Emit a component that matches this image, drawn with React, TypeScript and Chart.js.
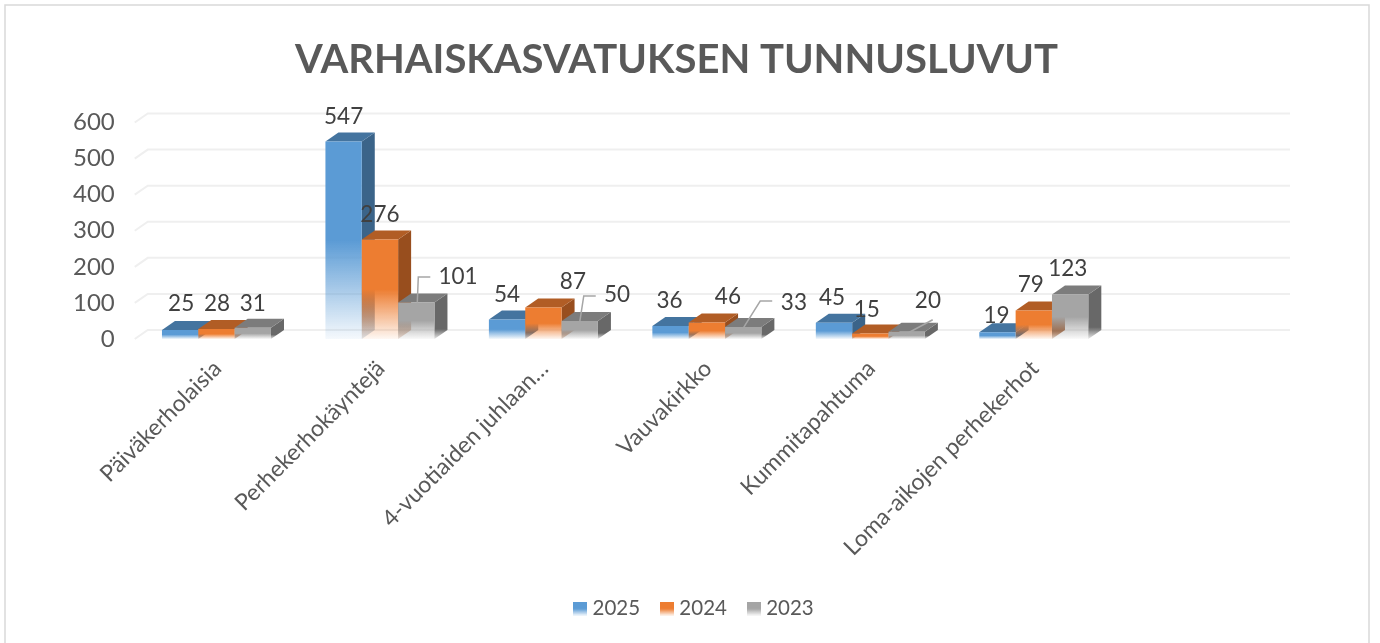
import React, { useEffect, useRef } from "react";
import { Chart, registerables } from "chart.js";

Chart.register(...registerables);

const TITLE = "VARHAISKASVATUKSEN TUNNUSLUVUT";
const categories = [
  "Päiväkerholaisia",
  "Perhekerhokäyntejä",
  "4-vuotiaiden juhlaan…",
  "Vauvakirkko",
  "Kummitapahtuma",
  "Loma-aikojen perhekerhot",
  "",
];
const seriesNames = ["2025", "2024", "2023"];
const values2025 = [25, 547, 54, 36, 45, 19, null];
const values2024 = [28, 276, 87, 46, 15, 79, null];
const values2023 = [31, 101, 50, 33, 20, 123, null];

const FRONT = ["#5b9bd5", "#ed7d31", "#a5a5a5"];
const TOP = ["#44749f", "#b15d25", "#7c7c7c"];
const SIDE = ["#3b6489", "#984e1e", "#686868"];
const DEPTH_X = 13;
const DEPTH_Y = 9;

// data-label offsets from the bar's top centre [dx, dy], by series then category
const labelOffsets = [
  [[1, -26], [0, -25], [0, -24.5], [-1, -25], [-2, -25], [-1, -16]],
  [[0.5, -25], [0, -25], [29.5, -25.5], [21, -25.4], [-3.5, -23.6], [-3, -25.4]],
  [[0, -24], [41.7, -25.5], [37.2, -26], [50.7, -24], [21.2, -30.8], [-2.3, -25.5]],
];
// leader lines relative to the bar's top centre, by series then category
const leaders = [
  [null, null, null, null, null, null],
  [null, null, null, null, null, null],
  [
    null,
    [[1, 0], [2, -25.5], [14, -25.5]],
    [[0, 1], [4, -25], [16, -25]],
    [[0, 1], [17, -26], [29, -26]],
    [[-2, 3], [26, -12]],
    null,
  ],
];

function rgba(hex: string, a: number) {
  const n = parseInt(hex.slice(1), 16);
  return `rgba(${(n >> 16) & 255},${(n >> 8) & 255},${n & 255},${a})`;
}

function frontFill(ctx: CanvasRenderingContext2D, hex: string, top: number, bottom: number) {
  const g = ctx.createLinearGradient(0, top, 0, bottom);
  g.addColorStop(0, hex);
  g.addColorStop(0.5, hex);
  g.addColorStop(1, rgba(hex, 0.06));
  return g;
}

function swatch(hex: string) {
  const c = document.createElement("canvas");
  c.width = 14;
  c.height = 14;
  const x = c.getContext("2d") as CanvasRenderingContext2D;
  x.fillStyle = frontFill(x, hex, 0, 14);
  x.fillRect(0, 0, 14, 14);
  return c;
}

const bars3d = {
  id: "bars3d",
  beforeDatasetsDraw(chart: any) {
    const { ctx, scales } = chart;
    const yScale = scales.y;
    // back-wall grid, from the value scale
    ctx.save();
    ctx.strokeStyle = "#efefef";
    ctx.lineWidth = 2;
    for (const t of yScale.ticks) {
      const y = yScale.getPixelForValue(t.value);
      ctx.beginPath();
      ctx.moveTo(chart.chartArea.left, y);
      ctx.lineTo(chart.chartArea.left + DEPTH_X, y - DEPTH_Y);
      ctx.lineTo(chart.chartArea.right + DEPTH_X - 2, y - DEPTH_Y);
      ctx.stroke();
    }
    ctx.restore();
    chart.data.datasets.forEach((_: any, i: number) => {
      const meta = chart.getDatasetMeta(i);
      meta.data.forEach((bar: any, j: number) => {
        if (chart.data.datasets[i].data[j] == null) return;
        const l = bar.x - bar.width / 2;
        const r = bar.x + bar.width / 2;
        const t = bar.y;
        const b = bar.base;
        ctx.save();
        const sg = ctx.createLinearGradient(0, t - DEPTH_Y, 0, b);
        sg.addColorStop(0, SIDE[i]);
        sg.addColorStop(0.78, SIDE[i]);
        sg.addColorStop(1, rgba(SIDE[i], 0.15));
        ctx.fillStyle = sg;
        ctx.beginPath();
        ctx.moveTo(r, t);
        ctx.lineTo(r + DEPTH_X, t - DEPTH_Y);
        ctx.lineTo(r + DEPTH_X, b - DEPTH_Y);
        ctx.lineTo(r, b);
        ctx.closePath();
        ctx.fill();
        ctx.fillStyle = TOP[i];
        ctx.beginPath();
        ctx.moveTo(l, t);
        ctx.lineTo(l + DEPTH_X, t - DEPTH_Y);
        ctx.lineTo(r + DEPTH_X, t - DEPTH_Y);
        ctx.lineTo(r, t);
        ctx.closePath();
        ctx.fill();
        ctx.restore();
      });
      meta.controller.draw();
    });
    return false;
  },
  afterDraw(chart: any) {
    const { ctx } = chart;
    ctx.save();
    chart.data.datasets.forEach((ds: any, i: number) => {
      const meta = chart.getDatasetMeta(i);
      meta.data.forEach((bar: any, j: number) => {
        const v = ds.data[j];
        if (v == null) return;
        const cx = bar.x;
        const cy = bar.y;
        const line = leaders[i][j];
        if (line) {
          ctx.strokeStyle = "#a6a6a6";
          ctx.lineWidth = 1.5;
          ctx.beginPath();
          line.forEach(([dx, dy]: number[], k: number) => {
            if (k === 0) ctx.moveTo(cx + dx, cy + dy);
            else ctx.lineTo(cx + dx, cy + dy);
          });
          ctx.stroke();
        }
        const [dx, dy] = labelOffsets[i][j];
        ctx.fillStyle = "#404040";
        ctx.font = "22.5px Lato";
        ctx.textAlign = "center";
        ctx.textBaseline = "middle";
        ctx.fillText(String(v), cx + dx, cy + dy);
      });
    });
    ctx.restore();
  },
};

const boxShift = {
  id: "boxShift",
  afterLayout(chart: any) {
    chart.titleBlock.left = 0;
    chart.titleBlock.right = 1353;
    chart.legend.right = 1392;
  },
};

const frame = {
  id: "frame",
  beforeDraw(chart: any) {
    const { ctx } = chart;
    ctx.save();
    ctx.strokeStyle = "#d9d9d9";
    ctx.lineWidth = 1.5;
    ctx.strokeRect(5, 5, 1364, 700);
    ctx.restore();
  },
};

export default function App() {
  const ref = useRef<HTMLCanvasElement>(null);
  useEffect(() => {
    document.body.style.margin = "0";
    document.body.style.background = "#fff";
    const sources = [values2025, values2024, values2023];
    const chart = new Chart(ref.current as HTMLCanvasElement, {
      type: "bar",
      data: {
        labels: categories,
        datasets: sources.map((data, i) => ({
          label: seriesNames[i],
          data,
          categoryPercentage: 0.667,
          barPercentage: 1,
          borderWidth: 0,
          backgroundColor: (c: any) => {
            const { chart: ch, dataIndex } = c;
            const v = data[dataIndex];
            const y = ch.scales.y;
            if (v == null || !y) return FRONT[i];
            return frontFill(ch.ctx, FRONT[i], y.getPixelForValue(v), y.getPixelForValue(0));
          },
        })),
      },
      options: {
        animation: false,
        responsive: false,
        layout: { padding: { left: 0, right: 101, top: 0, bottom: 14 } },
        plugins: {
          title: {
            display: true,
            text: TITLE,
            color: "#595959",
            font: { family: "Lato", size: 40, weight: "bold" },
            padding: { top: 36, bottom: 38.5 },
          },
          tooltip: { enabled: false },
          legend: {
            position: "bottom",
            labels: {
              usePointStyle: true,
              boxWidth: 4,
              boxHeight: 14,
              padding: 25,
              color: "#595959",
              font: { family: "Lato", size: 20.5 },
              generateLabels: () =>
                seriesNames.map((text, i) => ({
                  text,
                  datasetIndex: i,
                  fontColor: "#595959",
                  pointStyle: swatch(FRONT[i]),
                  lineWidth: 0,
                })),
            },
          },
        },
        scales: {
          x: {
            grid: { display: false },
            border: { display: false },
            ticks: {
              maxRotation: 45,
              minRotation: 45,
              autoSkip: false,
              color: "#595959",
              font: { family: "Lato", size: 23 },
              padding: 8,
              labelOffset: 1,
            },
            afterFit: (s: any) => {
              s.height = 234.5;
            },
          },
          y: {
            min: 0,
            max: 600,
            grid: { display: false },
            border: { display: false },
            ticks: {
              stepSize: 100,
              color: "#595959",
              font: { family: "Lato", size: 24 },
              padding: 12,
            },
            afterFit: (s: any) => {
              s.width = 134.75;
            },
          },
        },
      },
      plugins: [frame, boxShift, bars3d],
    } as any);
    return () => chart.destroy();
  }, []);
  return (
    <div style={{ position: "absolute", left: 0, top: 0, width: 1380, height: 643 }}>
      <canvas ref={ref} width={1380} height={643} style={{ display: "block" }} />
    </div>
  );
}
